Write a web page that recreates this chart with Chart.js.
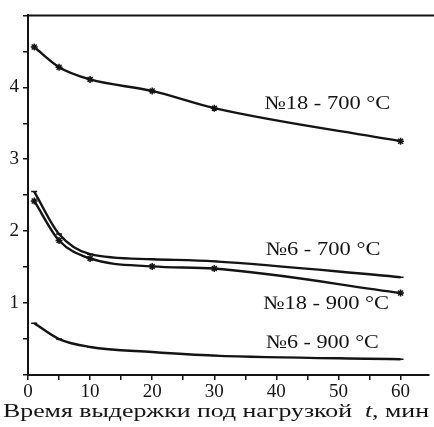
<!DOCTYPE html>
<html>
<head>
<meta charset="utf-8">
<script src="https://cdn.jsdelivr.net/npm/chart.js@4.4.1/dist/chart.umd.min.js"></script>
<style>
  html, body { margin: 0; padding: 0; background: #ffffff; }
  #wrap { width: 434px; height: 427px; position: relative; }
</style>
</head>
<body>
<div id="wrap"><canvas id="c" width="434" height="427"></canvas></div>
<script>
// ---- data ----
const timeN18_700 = [1, 5, 10, 20, 30, 60];
const valN18_700  = [4.56, 4.28, 4.11, 3.95, 3.71, 3.25];

const timeN6_700  = [1, 5, 10, 20, 30, 60];
const valN6_700   = [2.55, 1.96, 1.68, 1.61, 1.58, 1.36];

const timeN18_900 = [1, 5, 10, 20, 30, 60];
const valN18_900  = [2.42, 1.87, 1.62, 1.51, 1.48, 1.14];

const timeN6_900  = [1, 5, 10, 20, 30, 60];
const valN6_900   = [0.72, 0.5, 0.39, 0.32, 0.27, 0.22];

const seriesLabels = ["№18 - 700 °C", "№6 - 700 °C", "№18 - 900 °C", "№6 - 900 °C"];
const labelAnchorX = [48.2, 47.5, 48.0, 47.4];
const labelAnchorY = [3.77, 1.74, 0.99, 0.45];
const labelWidths  = [126, 115, 126, 113];

const xTickLabels = ["0", "10", "20", "30", "40", "50", "60"];
const yTickLabels = ["1", "2", "3", "4"];
const axisTitleMain = "Время выдержки под нагрузкой  ";
const axisTitleVar = "t";
const axisTitleUnit = ", мин";

const ink = "#141414";
const serif = "'Liberation Serif', 'DejaVu Serif', serif";

function pts(xs, ys) { return xs.map((x, i) => ({ x: x, y: ys[i] })); }

const frame = {
  id: 'frame',
  afterDraw(chart) {
    const { ctx, chartArea: a, scales } = chart;
    ctx.save();
    ctx.strokeStyle = ink;
    ctx.lineWidth = 2;
    ctx.beginPath();
    ctx.moveTo(a.left, a.top);
    ctx.lineTo(chart.width, a.top);
    ctx.stroke();
    // series labels
    ctx.fillStyle = ink;
    ctx.font = "19px " + serif;
    ctx.textAlign = 'center';
    ctx.textBaseline = 'middle';
    seriesLabels.forEach((t, i) => {
      const w = ctx.measureText(t).width;
      const px = scales.x.getPixelForValue(labelAnchorX[i]);
      const py = scales.y.getPixelForValue(labelAnchorY[i]);
      ctx.save();
      ctx.translate(px, py);
      ctx.scale(labelWidths[i] / w, 1);
      ctx.fillText(t, 0, 0);
      ctx.restore();
    });
    // axis title with italic variable
    const fs = 19;
    const fN = fs + "px " + serif, fI = "italic " + fs + "px " + serif;
    ctx.textAlign = 'left';
    ctx.textBaseline = 'alphabetic';
    ctx.font = fN; const w1 = ctx.measureText(axisTitleMain).width;
    ctx.font = fI; const w2 = ctx.measureText(axisTitleVar).width;
    ctx.font = fN; const w3 = ctx.measureText(axisTitleUnit).width;
    const total = w1 + w2 + w3;
    const targetW = 426;
    const sx = targetW / total;
    const x0 = 3, yb = 417;
    ctx.translate(x0, yb);
    ctx.scale(sx, 1);
    ctx.font = fN; ctx.fillText(axisTitleMain, 0, 0);
    ctx.font = fI; ctx.fillText(axisTitleVar, w1, 0);
    ctx.font = fN; ctx.fillText(axisTitleUnit, w1 + w2, 0);
    ctx.restore();
  }
};

const lineCommon = {
  borderColor: ink,
  backgroundColor: ink,
  borderWidth: 2.4,
  cubicInterpolationMode: 'monotone',
  fill: false
};

new Chart(document.getElementById('c'), {
  type: 'line',
  data: {
    datasets: [
      Object.assign({ label: seriesLabels[0], data: pts(timeN18_700, valN18_700), pointStyle: 'star', pointRadius: 3.5, pointBorderWidth: 1.5 }, lineCommon),
      Object.assign({ label: seriesLabels[1], data: pts(timeN6_700, valN6_700), pointStyle: 'line', pointRadius: 3, pointBorderWidth: 1.5 }, lineCommon),
      Object.assign({ label: seriesLabels[2], data: pts(timeN18_900, valN18_900), pointStyle: 'star', pointRadius: 3.5, pointBorderWidth: 1.5 }, lineCommon),
      Object.assign({ label: seriesLabels[3], data: pts(timeN6_900, valN6_900), pointStyle: 'line', pointRadius: 3, pointBorderWidth: 1.5 }, lineCommon)
    ]
  },
  options: {
    responsive: false,
    animation: false,
    events: [],
    layout: { padding: { top: 9, right: 0, left: 0, bottom: 0 } },
    plugins: { legend: { display: false }, tooltip: { enabled: false } },
    scales: {
      x: {
        type: 'linear',
        min: 0, max: 64.5,
        afterFit(s) { s.height = 52; },
        border: { display: true, color: ink, width: 2 },
        grid: { drawOnChartArea: false, color: ink, tickLength: 5, lineWidth: 1.5 },
        ticks: {
          stepSize: 5,
          includeBounds: false,
          autoSkip: false,
          maxRotation: 0,
          padding: 1,
          color: ink,
          font: { family: serif, size: 19 },
          callback(v) { const s = String(v); return xTickLabels.includes(s) ? s : ''; }
        }
      },
      y: {
        type: 'linear',
        min: 0, max: 5,
        afterFit(s) { s.width = 28; },
        border: { display: true, color: ink, width: 2 },
        grid: { drawOnChartArea: false, color: ink, tickLength: 5, lineWidth: 1.5 },
        ticks: {
          stepSize: 0.5,
          autoSkip: false,
          padding: 4,
          color: ink,
          font: { family: serif, size: 19 },
          callback(v) { const s = String(v); return yTickLabels.includes(s) ? s : ''; }
        }
      }
    }
  },
  plugins: [frame]
});
</script>
</body>
</html>
